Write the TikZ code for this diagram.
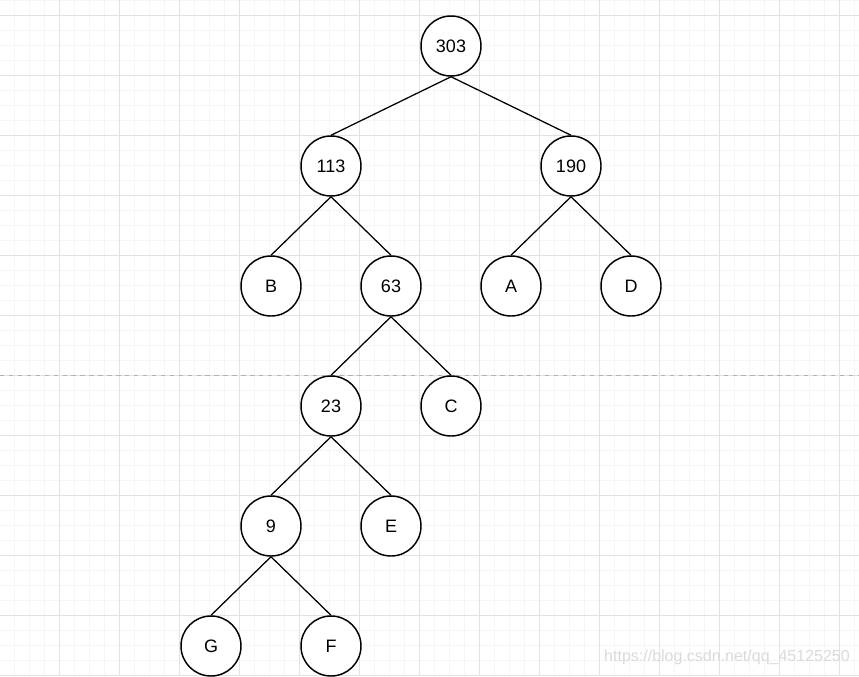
\documentclass[tikz,border=0pt]{standalone}
\usepackage{fontspec}
\setmainfont{Liberation Sans}
\definecolor{minorgray}{HTML}{F5F5F5}
\definecolor{majorgray}{HTML}{E2E2E2}
\definecolor{markgray}{HTML}{DADADA}
\tikzstyle{vertex}=[circle, draw, fill=white, line width=1.1pt, minimum size=45pt, inner sep=0pt, font=\fontsize{13.5}{16}\selectfont]
\tikzstyle{edge}=[line width=0.95pt]
\tikzstyle{minorline}=[minorgray, line width=0.75pt]
\tikzstyle{majorline}=[majorgray, line width=0.75pt]

\begin{document}
\begin{tikzpicture}[x=0.75pt, y=-0.75pt]
      \clip (0,0) rectangle (859,676);
      \fill[white] (0,0) rectangle (859,676);
      % grid
      \foreach \x in {14,29,...,854} \draw[minorline] (\x,0) -- (\x,676);
      \foreach \y in {0,15,...,675} \draw[minorline] (0,\y) -- (859,\y);
      \foreach \x in {59,119,...,839} \draw[majorline] (\x,0) -- (\x,676);
      \foreach \y in {15,75,...,675} \draw[majorline] (0,\y) -- (859,\y);
      \draw[gray!60, line width=0.9pt, dash pattern=on 3.3pt off 3.4pt] (0,375.5) -- (859,375.5);
      % tree
      \foreach \n/\t/\x/\y in {r/303/451/46, l/113/331/166, rr/190/571/166,
          B/B/271/286, m/63/391/286, A/A/511/286, D/D/631/286,
          s/23/331/406, C/C/451/406, n/9/271/526, E/E/391/526,
          G/G/211/646, F/F/331/646} {%
        \node[vertex] (\n) at (\x,\y) {\t};
      }
      \foreach \a/\b in {r/l, r/rr, l/B, l/m, rr/A, rr/D, m/s, m/C, s/n, s/E, n/G, n/F}
        \draw[edge] (\a.south) -- (\b.north);
      \node[markgray, font=\fontsize{12}{14}\selectfont] (mark) at (727,657) {https://blog.csdn.net/qq\_45125250};
    \end{tikzpicture}
\end{document}
